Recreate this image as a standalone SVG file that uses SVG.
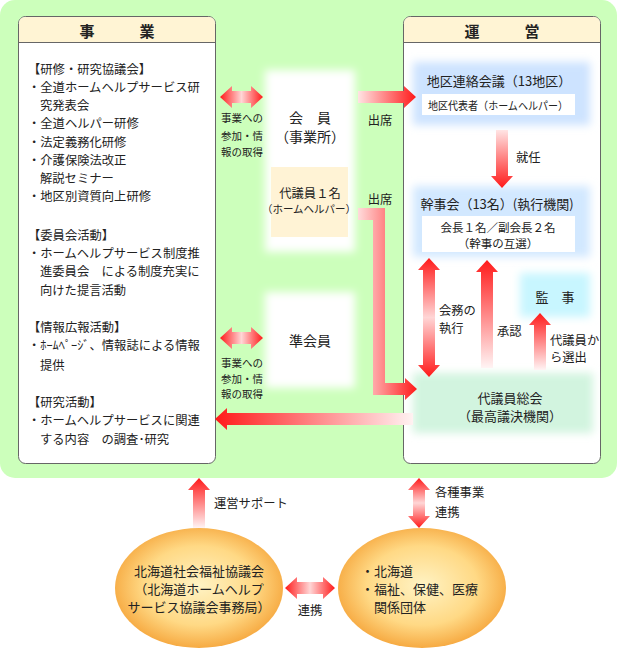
<svg xmlns="http://www.w3.org/2000/svg" width="620" height="651" viewBox="0 0 620 651">
<defs>
<style>
text{font-family:"Noto Sans CJK JP","Noto Sans CJK SC",sans-serif;fill:#222;dominant-baseline:central}
.t{font-size:12.3px}
.s{font-size:10.5px}
.m{font-size:13px}
.h{font-size:15px;font-weight:bold}
.c{text-anchor:middle}
.panel{fill:#fff;stroke:#666;stroke-width:1}
.hdr{fill:#fff4d4}
</style>
<filter id="gl" x="-20%" y="-20%" width="140%" height="140%"><feGaussianBlur stdDeviation="4"/></filter>
<linearGradient id="gdh" x1="0" y1="0" x2="1" y2="0"><stop offset="0" stop-color="#ff1a1a"/><stop offset="0.5" stop-color="#ffd6d6"/><stop offset="1" stop-color="#ff1a1a"/></linearGradient>
<linearGradient id="gdv" x1="0" y1="0" x2="0" y2="1"><stop offset="0" stop-color="#ff1a1a"/><stop offset="0.5" stop-color="#ffd6d6"/><stop offset="1" stop-color="#ff1a1a"/></linearGradient>
<linearGradient id="gr" x1="0" y1="0" x2="1" y2="0"><stop offset="0" stop-color="#ffe4e4"/><stop offset="1" stop-color="#ff1a1a"/></linearGradient>
<linearGradient id="gl2" x1="0" y1="0" x2="1" y2="0"><stop offset="0" stop-color="#ff1a1a"/><stop offset="1" stop-color="#fff2f2"/></linearGradient>
<linearGradient id="gd" x1="0" y1="0" x2="0" y2="1"><stop offset="0" stop-color="#ffe4e4"/><stop offset="1" stop-color="#ff1a1a"/></linearGradient>
<linearGradient id="gu" x1="0" y1="0" x2="0" y2="1"><stop offset="0" stop-color="#ff1a1a"/><stop offset="1" stop-color="#fff4f4"/></linearGradient>
<linearGradient id="gL" gradientUnits="userSpaceOnUse" x1="358" y1="0" x2="417" y2="0"><stop offset="0" stop-color="#ffdcdc"/><stop offset="1" stop-color="#ff1a1a"/></linearGradient>
<radialGradient id="orb" cx="50%" cy="48%" r="55%"><stop offset="0" stop-color="#fff3c4"/><stop offset="0.6" stop-color="#ffd985"/><stop offset="1" stop-color="#f5a338"/></radialGradient>
</defs>

<rect x="0" y="0" width="617" height="478" rx="15" fill="#ccffbb"/>

<g id="jigyo">
<rect class="panel" x="18.5" y="16.5" width="197" height="447" rx="7"/>
<path class="hdr" d="M19,42 V23 a6,6 0 0 1 6,-6 H209 a6,6 0 0 1 6,6 V42 Z"/>
<line x1="18.5" y1="42.5" x2="215.5" y2="42.5" stroke="#666"/>
<text class="h c" x="117" y="30">事　　　業</text>
<text class="t" x="28" y="69">【研修・研究協議会】</text>
<text class="t" x="28" y="87">・全道ホームヘルプサービス研</text>
<text class="t" x="40" y="105">究発表会</text>
<text class="t" x="28" y="123">・全道ヘルパー研修</text>
<text class="t" x="28" y="142">・法定義務化研修</text>
<text class="t" x="28" y="160">・介護保険法改正</text>
<text class="t" x="40" y="178">解説セミナー</text>
<text class="t" x="28" y="196">・地区別資質向上研修</text>
<text class="t" x="28" y="235">【委員会活動】</text>
<text class="t" x="28" y="253">・ホームヘルプサービス制度推</text>
<text class="t" x="40" y="271">進委員会　による制度充実に</text>
<text class="t" x="40" y="290">向けた提言活動</text>
<text class="t" x="28" y="327">【情報広報活動】</text>
<text class="t" x="28" y="345">・ﾎｰﾑﾍﾟｰｼﾞ、情報誌による情報</text>
<text class="t" x="40" y="365">提供</text>
<text class="t" x="28" y="402">【研究活動】</text>
<text class="t" x="28" y="420">・ホームヘルプサービスに関連</text>
<text class="t" x="40" y="439">する内容　の調査･研究</text>
</g>

<g id="unei">
<rect class="panel" x="403.5" y="16.5" width="197" height="447" rx="7"/>
<path class="hdr" d="M404,42 V23 a6,6 0 0 1 6,-6 H594 a6,6 0 0 1 6,6 V42 Z"/>
<line x1="403.5" y1="42.5" x2="600.5" y2="42.5" stroke="#666"/>
<text class="h c" x="502" y="30">運　　　営</text>
</g>

<g id="kaiin">
<rect x="265" y="70" width="90" height="182" fill="#fff" filter="url(#gl)"/>
<text class="c" x="310" y="117" style="font-size:14px">会　員</text>
<text class="c" x="310" y="136" style="font-size:14px">（事業所）</text>
<rect x="271" y="167" width="77" height="70" fill="#fff3d5"/>
<text class="t c" x="310" y="193">代議員１名</text>
<text class="s c" x="309" y="208">（ホームヘルパー）</text>
</g>

<g id="junkaiin">
<rect x="265" y="292" width="90" height="96" fill="#fff" filter="url(#gl)"/>
<text class="c" x="310" y="340" style="font-size:14px">準会員</text>
</g>

<g id="chiku">
<rect x="413" y="62" width="177" height="63" fill="#cde3ff" filter="url(#gl)"/>
<text class="m c" x="499" y="80">地区連絡会議（13地区）</text>
<rect x="422" y="94" width="153" height="21" fill="#fff"/>
<text class="c" x="498" y="105" style="font-size:11px" textLength="140" lengthAdjust="spacingAndGlyphs">地区代表者（ホームヘルパー）</text>
</g>

<g id="kanjikai">
<rect x="413" y="186" width="177" height="71" fill="#d2e8ff" filter="url(#gl)"/>
<text class="m c" x="497" y="203">幹事会（13名）(執行機関)</text>
<rect x="422" y="216" width="153" height="36" fill="#fff"/>
<text class="c" x="498" y="226.5" style="font-size:11.5px">会長１名／副会長２名</text>
<text class="c" x="498" y="243" style="font-size:11.5px">（幹事の互選）</text>
</g>

<g id="kanji">
<rect x="520" y="273" width="70" height="44" fill="#c8f6ff" filter="url(#gl)"/>
<text class="m c" x="555" y="296">監　事</text>
</g>

<g id="sokai">
<rect x="413" y="373" width="180" height="60" fill="#d2f4df" filter="url(#gl)"/>
<text class="m c" x="510" y="397">代議員総会</text>
<text class="m c" x="510" y="415">（最高議決機関）</text>
</g>

<g id="shakyo">
<ellipse cx="199" cy="588" rx="84" ry="60" fill="url(#orb)"/>
<text class="m c" x="199" y="570">北海道社会福祉協議会</text>
<text class="m c" x="199" y="588">（北海道ホームヘルプ</text>
<text class="m c" x="199" y="606">サービス協議会事務局）</text>
</g>

<g id="kankei">
<ellipse cx="422" cy="588" rx="84" ry="60" fill="url(#orb)"/>
<text class="m" x="361" y="570">・北海道</text>
<text class="m" x="361" y="588">・福祉、保健、医療</text>
<text class="m" x="374" y="606">関係団体</text>
</g>

<g id="connectors">
<polygon fill="url(#gdh)" points="220,97 232,86 232,91 251,91 251,86 263,97 251,108 251,103 232,103 232,108"/>
<polygon fill="url(#gdh)" points="220,338 232,327 232,332 251,332 251,327 263,338 251,349 251,344 232,344 232,349"/>
<polygon fill="url(#gr)" points="358,91 404,91 404,86 416,97 404,108 404,103 358,103"/>
<path fill="url(#gL)" d="M358,208 H385 V383 H405 V378 L417,389 L405,400 V395 H373 V220 H358 Z"/>
<polygon fill="url(#gl2)" points="215,419 227,408 227,413 413,413 413,425 227,425 227,430"/>
<polygon fill="url(#gd)" points="496,130 508,130 508,176 513,176 502,188 491,176 496,176"/>
<polygon fill="url(#gdv)" points="429,258 440,270 435,270 435,365 440,365 429,377 418,365 423,365 423,270 418,270"/>
<polygon fill="url(#gu)" points="487,260 498,272 493,272 493,368 481,368 481,272 476,272"/>
<polygon fill="url(#gu)" points="540,313 551,325 546,325 546,370 534,370 534,325 529,325"/>
<polygon fill="url(#gu)" points="199,478 210,490 205,490 205,528 193,528 193,490 188,490"/>
<polygon fill="url(#gdv)" points="419,478 430,490 425,490 425,516 430,516 419,528 408,516 413,516 413,490 408,490"/>
<polygon fill="url(#gdh)" points="285,588 297,577 297,582 323,582 323,577 335,588 323,599 323,594 297,594 297,599"/>
<text class="s" x="221" y="117">事業への</text>
<text class="s" x="221" y="135">参加・情</text>
<text class="s" x="221" y="151">報の取得</text>
<text class="s" x="221" y="362">事業への</text>
<text class="s" x="221" y="378">参加・情</text>
<text class="s" x="221" y="393">報の取得</text>
<text class="t c" x="380" y="120">出席</text>
<text class="t c" x="380" y="199">出席</text>
<text class="t" x="516" y="157">就任</text>
<text class="t" x="439" y="310">会務の</text>
<text class="t" x="439" y="328">執行</text>
<text class="t" x="497" y="331">承認</text>
<text class="t" x="550" y="340">代議員か</text>
<text class="t" x="550" y="357">ら選出</text>
<text class="t" x="214" y="503">運営サポート</text>
<text class="t" x="435" y="492">各種事業</text>
<text class="t" x="435" y="512">連携</text>
<text class="t c" x="310" y="610">連携</text>
</g>
</svg>
